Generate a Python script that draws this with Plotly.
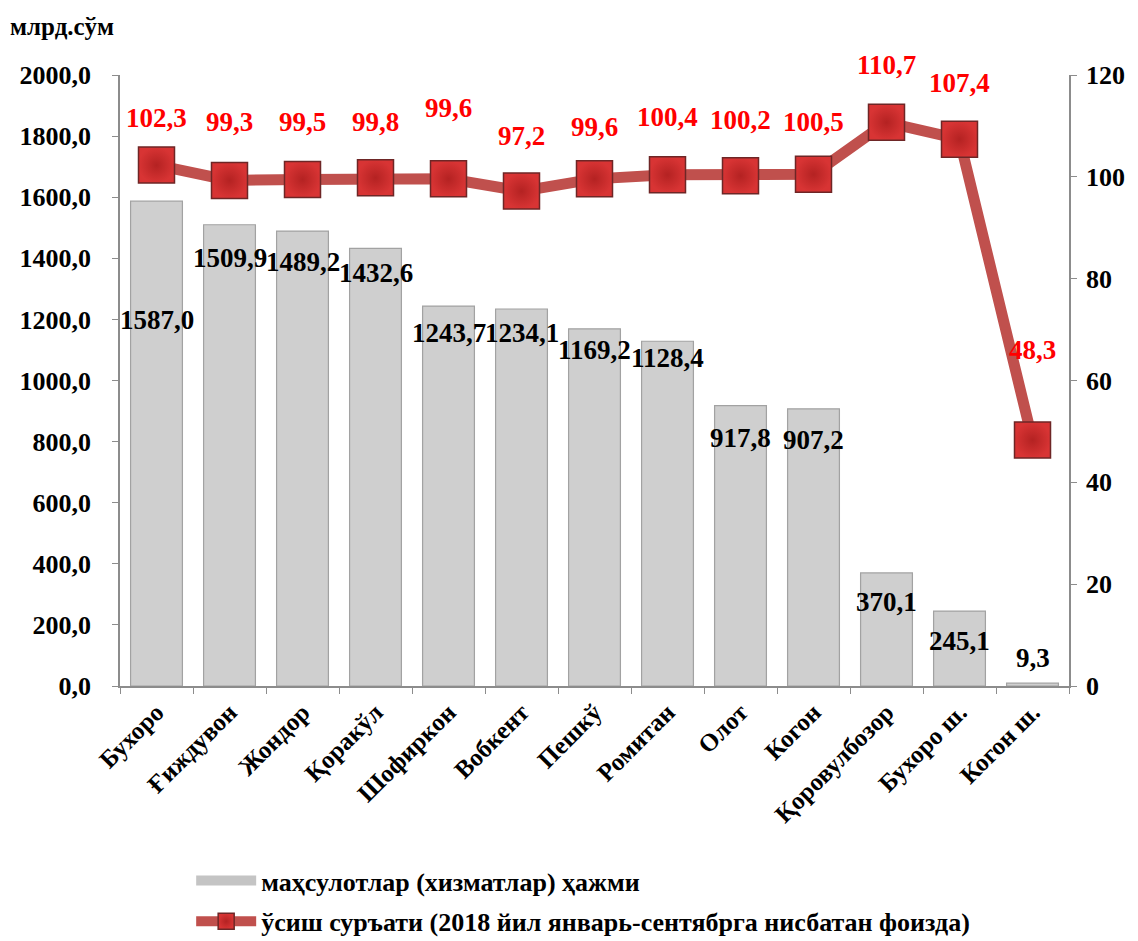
import plotly.graph_objects as go

categories = ["Бухоро", "Ғиждувон", "Жондор", "Қоракўл", "Шофиркон", "Вобкент", "Пешкў",
              "Ромитан", "Олот", "Когон", "Қоровулбозор", "Бухоро ш.", "Когон ш."]
volume = [1587.0, 1509.9, 1489.2, 1432.6, 1243.7, 1234.1, 1169.2, 1128.4, 917.8, 907.2, 370.1, 245.1, 9.3]
growth = [102.3, 99.3, 99.5, 99.8, 99.6, 97.2, 99.6, 100.4, 100.2, 100.5, 110.7, 107.4, 48.3]
left_ticks = [0, 200, 400, 600, 800, 1000, 1200, 1400, 1600, 1800, 2000]
right_ticks = [0, 20, 40, 60, 80, 100, 120]
bar_name = "маҳсулотлар (хизматлар) ҳажми"
line_name = "ўсиш суръати (2018 йил январь-сентябрга нисбатан фоизда)"

# label placement offsets (pixels), style only
bar_label_shift = [-119, -33, -31, -25, -27, -24, -21, -17, -32, -31, -29, -30, 25]
line_label_shift = [47, 58, 57, 56, 71, 55, 52, 58, 56, 52, 57, 56, 90]

FONT = "Times New Roman, Liberation Serif, serif"
FS = 27

def fmt(v):
    return f"{v:.1f}".replace(".", ",")

fig = go.Figure()
fig.add_trace(go.Bar(
    x=categories, y=volume, name=bar_name, legendgroup="bars", showlegend=False,
    marker=dict(color="#cfcfcf", line=dict(color="#a2a2a2", width=1.2)),
    width=0.71,
))
# legend swatch for the bars (wide grey bar, as in the original legend)
fig.add_trace(go.Scatter(
    x=[None], y=[None], mode="lines", name=bar_name, legendgroup="bars",
    line=dict(color="#c4c4c4", width=14),
))
fig.add_trace(go.Scatter(
    x=categories, y=growth, yaxis="y2", mode="lines+markers", name=line_name,
    line=dict(color="#c0504d", width=11),
    marker=dict(symbol="square", size=36, color="#d83434",
                gradient=dict(type="radial", color="#b42222"),
                line=dict(color="#6e2626", width=1.5)),
))

annotations = []
for c, v, s in zip(categories, volume, bar_label_shift):
    annotations.append(dict(x=c, y=v, xref="x", yref="y", text=fmt(v), showarrow=False,
                            yshift=s, font=dict(family=FONT, size=FS, color="black", weight="bold")))
for c, v, s in zip(categories, growth, line_label_shift):
    annotations.append(dict(x=c, y=v, xref="x", yref="y2", text=fmt(v), showarrow=False,
                            yshift=s, font=dict(family=FONT, size=FS, color="#ff0000", weight="bold")))
annotations.append(dict(x=-0.118, y=1.08, xref="paper", yref="paper", text="млрд.сўм",
                        showarrow=False, xanchor="left", yanchor="middle",
                        font=dict(family=FONT, size=25, color="black", weight="bold")))

tickfont = dict(family=FONT, size=26, color="black", weight="bold")
axis_common = dict(showline=True, linecolor="#8c8c8c", linewidth=1.5, automargin=False,
                   ticks="outside", ticklen=6, tickcolor="#8c8c8c", showgrid=False)
fig.update_layout(
    width=1138, height=941,
    margin=dict(l=120, r=69, t=75, b=255, autoexpand=False),
    paper_bgcolor="white", plot_bgcolor="white",
    font=dict(family=FONT),
    bargap=0.29,
    showlegend=True,
    legend=dict(x=0.075, y=-0.28, xanchor="left", yanchor="top", orientation="v",
                font=dict(family=FONT, size=26, color="black", weight="bold"),
                itemwidth=60, tracegroupgap=4),
    xaxis=dict(tickangle=-45, tickfont=dict(family=FONT, size=25, color="black", weight="bold"),
               range=[-0.5, len(categories) - 0.5], tickson="boundaries", **axis_common),
    yaxis=dict(range=[0, 2000], tickvals=left_ticks, ticktext=[fmt(t) for t in left_ticks],
               tickfont=tickfont, ticklabelstandoff=16, zeroline=False, **axis_common),
    yaxis2=dict(range=[0, 120], tickvals=right_ticks, overlaying="y", side="right",
                tickfont=tickfont, ticklabelstandoff=4, zeroline=False, **axis_common),
    annotations=annotations,
)
fig.write_html("out.html", config={"displayModeBar": False},
               post_script="document.body.style.margin='0';")
